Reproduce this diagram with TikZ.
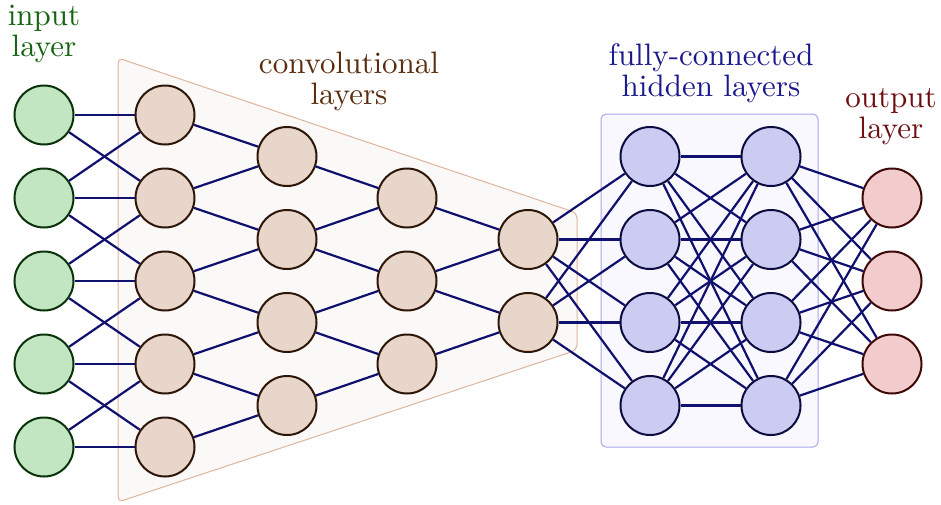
\documentclass[tikz,border=0pt]{standalone}
\usepackage{tikz}
\usetikzlibrary{positioning}

\definecolor{inFill}{RGB}{194,230,194}
\definecolor{inDraw}{RGB}{10,50,10}
\definecolor{inText}{RGB}{20,100,20}
\definecolor{convFill}{RGB}{233,214,203}
\definecolor{convDraw}{RGB}{45,22,8}
\definecolor{convText}{RGB}{90,45,15}
\definecolor{convBack}{RGB}{251,249,248}
\definecolor{convEdge}{RGB}{222,180,158}
\definecolor{fcFill}{RGB}{204,204,242}
\definecolor{fcDraw}{RGB}{12,12,64}
\definecolor{fcText}{RGB}{25,25,140}
\definecolor{fcBack}{RGB}{248,248,254}
\definecolor{fcEdge}{RGB}{168,168,238}
\definecolor{outFill}{RGB}{242,204,204}
\definecolor{outDraw}{RGB}{60,8,8}
\definecolor{outText}{RGB}{110,15,15}
\definecolor{linkCol}{RGB}{16,16,110}

\tikzset{
  neuron/.style={circle, minimum size=59pt, inner sep=0pt, line width=2pt},
  innode/.style={neuron, fill=inFill, draw=inDraw},
  convnode/.style={neuron, fill=convFill, draw=convDraw},
  fcnode/.style={neuron, fill=fcFill, draw=fcDraw},
  outnode/.style={neuron, fill=outFill, draw=outDraw},
  link/.style={draw=linkCol, line width=2.2pt},
  caption/.style={align=center, scale=3.1, font=\fontsize{10}{10}\selectfont}
}

\begin{document}
\begin{tikzpicture}[x=1pt,y=1pt,yscale=-1]
\useasboundingbox (0,0) rectangle (941,504);

% background shapes
\draw [fill=convBack, draw=convEdge, line width=1pt, rounded corners=5pt]
  (118,58) -- (577,213) -- (577,350) -- (118,502) -- cycle;
\draw [fill=fcBack, draw=fcEdge, line width=1pt, rounded corners=5pt]
  (601,114) rectangle (818,447);

% neurons
\foreach \i in {1,...,5} \node [innode] (I\i) at (44,{32+83*\i}) {};
\foreach \i in {1,...,5} \node [convnode] (A\i) at (165,{32+83*\i}) {};
\foreach \i in {1,...,4} \node [convnode] (B\i) at (287,{73.5+83*\i}) {};
\foreach \i in {1,...,3} \node [convnode] (C\i) at (407,{115+83*\i}) {};
\foreach \i in {1,2} \node [convnode] (D\i) at (528,{156.5+83*\i}) {};
\foreach \i in {1,...,4} \node [fcnode] (F\i) at (650,{73.5+83*\i}) {};
\foreach \i in {1,...,4} \node [fcnode] (G\i) at (771,{73.5+83*\i}) {};
\foreach \i in {1,...,3} \node [outnode] (O\i) at (892,{115+83*\i}) {};

% connections
\foreach \i in {1,...,5} \draw [link] (I\i) -- (A\i);
\foreach \i [evaluate=\i as \j using int(\i+1)] in {1,...,4} {
  \draw [link] (I\i) -- (A\j);
  \draw [link] (I\j) -- (A\i);
  \draw [link] (A\i) -- (B\i);
  \draw [link] (A\j) -- (B\i);
}
\foreach \i [evaluate=\i as \j using int(\i+1)] in {1,...,3} {
  \draw [link] (B\i) -- (C\i);
  \draw [link] (B\j) -- (C\i);
}
\foreach \i [evaluate=\i as \j using int(\i+1)] in {1,2} {
  \draw [link] (C\i) -- (D\i);
  \draw [link] (C\j) -- (D\i);
}
\foreach \i in {1,2} \foreach \k in {1,...,4} \draw [link] (D\i) -- (F\k);
\foreach \i in {1,...,4} \foreach \k in {1,...,4} \draw [link] (F\i) -- (G\k);
\foreach \i in {1,...,4} \foreach \k in {1,...,3} \draw [link] (G\i) -- (O\k);

% labels
\node [caption, text=inText] (inLabel) at (44,34) {input\\layer};
\node [caption, text=convText] (convLabel) at (349,81) {convolutional\\layers};
\node [caption, text=fcText] (fcLabel) at (711,73) {fully-connected\\hidden layers};
\node [caption, text=outText] (outLabel) at (891,117) {output\\layer};

\end{tikzpicture}
\end{document}
